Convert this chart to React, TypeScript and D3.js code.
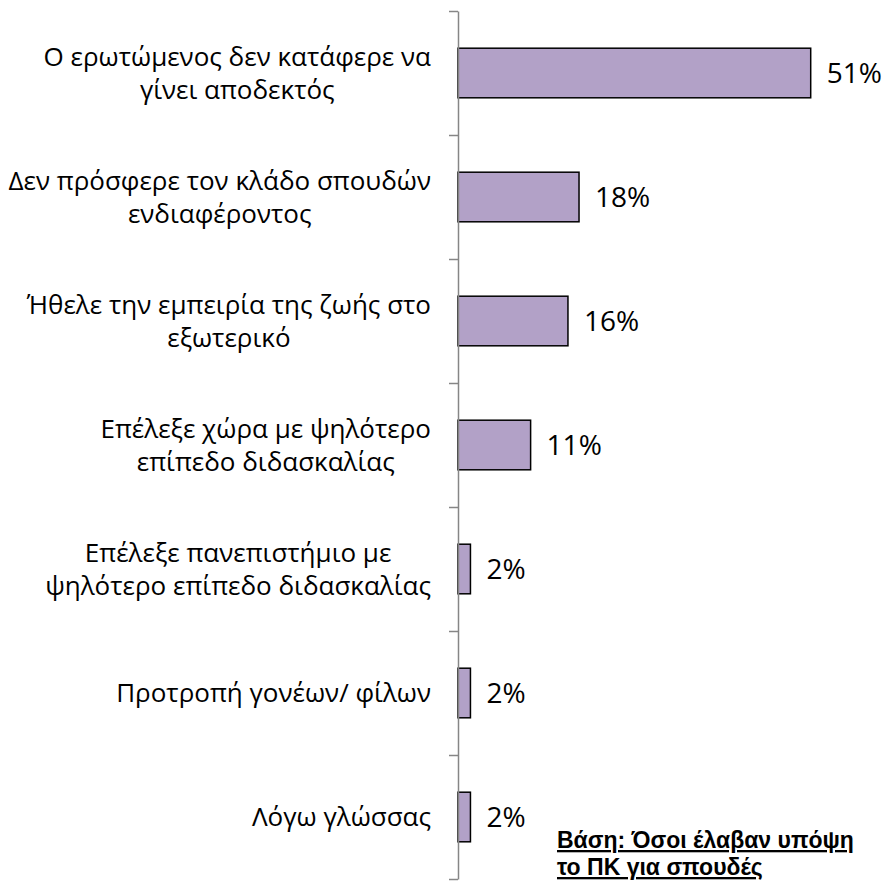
import { useEffect, useRef } from "react";
import * as d3 from "d3";

const categories = [
  ["Ο ερωτώμενος δεν κατάφερε να", "γίνει αποδεκτός"],
  ["Δεν πρόσφερε τον κλάδο σπουδών", "ενδιαφέροντος"],
  ["Ήθελε την εμπειρία της ζωής στο", "εξωτερικό"],
  ["Επέλεξε χώρα με ψηλότερο", "επίπεδο διδασκαλίας"],
  ["Επέλεξε πανεπιστήμιο με", "ψηλότερο επίπεδο διδασκαλίας"],
  ["Προτροπή γονέων/ φίλων"],
  ["Λόγω γλώσσας"],
];
const values = [51, 17.5, 15.9, 10.5, 1.8, 1.8, 1.8];
const noteLines = ["Βάση: Όσοι έλαβαν υπόψη", "το ΠΚ για σπουδές"];

const width = 885;
const height = 885;
const margin = { top: 11, bottom: 6, left: 458, right: 74 };
const font = "'Open Sans', 'Noto Sans', sans-serif";
const noteFont = "'Liberation Sans', 'DejaVu Sans', sans-serif";

const App = () => {
  const ref = useRef<SVGSVGElement>(null);

  const bottom = height - margin.bottom;
  const keys = categories.map((_, i) => String(i));

  const yScale = d3.scaleBand().domain(keys).range([margin.top, bottom]).paddingInner(0.6).paddingOuter(0.3);
  const tickScale = d3.scaleLinear().domain([0, keys.length]).range([margin.top, bottom]);
  const xScale = d3.scaleLinear().domain([0, 51]).range([margin.left, margin.left + 352.7]);

  useEffect(() => {
    const svg = d3.select(ref.current);
    svg.selectAll("*").remove();

    // bars
    svg.append("g")
      .selectAll("rect")
      .data(values)
      .join("rect")
      .attr("x", xScale(0))
      .attr("y", (_, i) => yScale(keys[i])!)
      .attr("width", (d) => xScale(d) - xScale(0))
      .attr("height", yScale.bandwidth())
      .attr("fill", "#b2a1c7")
      .attr("stroke", "#000")
      .attr("stroke-width", 1.5);

    // axis with ticks on category boundaries
    const axis = d3.axisLeft(tickScale)
      .tickValues(d3.range(keys.length + 1))
      .tickFormat(() => "")
      .tickSizeInner(9)
      .tickSizeOuter(0);
    const g = svg.append("g").attr("transform", `translate(${margin.left},0)`).call(axis);
    g.selectAll("path, line").attr("stroke", "#868686").attr("stroke-width", 1.5);

    // value labels
    svg.append("g")
      .selectAll("text")
      .data(values)
      .join("text")
      .attr("x", (d) => xScale(d) + 16)
      .attr("y", (_, i) => yScale(keys[i])! + yScale.bandwidth() / 2)
      .attr("dy", "0.36em")
      .attr("font-family", font)
      .attr("font-size", 28)
      .attr("fill", "#000")
      .text((d) => `${Math.round(d)}%`);

    // category labels: lines centred on each other, block right-aligned
    const labelRight = 431;
    const lineH = 33;
    const lg = svg.append("g");
    categories.forEach((lines, i) => {
      const cy = yScale(keys[i])! + yScale.bandwidth() / 2;
      const t = lg.append("text")
        .attr("font-family", font)
        .attr("font-size", 26)
        .attr("fill", "#000")
        .attr("text-anchor", "middle");
      lines.forEach((line, j) => {
        t.append("tspan")
          .attr("y", cy + (j - (lines.length - 1) / 2) * lineH)
          .attr("dy", "0.36em")
          .text(line);
      });
      let maxW = 0;
      t.selectAll<SVGTSpanElement, unknown>("tspan").each(function () {
        maxW = Math.max(maxW, this.getComputedTextLength());
      });
      t.selectAll("tspan").attr("x", labelRight - maxW / 2);
    });

    // base note
    const note = svg.append("text")
      .attr("font-family", noteFont)
      .attr("font-size", 23)
      .attr("font-weight", "bold")
      .attr("font-style", "normal")
      .attr("text-decoration", "underline")
      .attr("fill", "#000");
    noteLines.forEach((line, j) => {
      note.append("tspan").attr("x", 557).attr("y", 848 + j * 27).text(line);
    });
  }, []);

  return (
    <svg
      ref={ref}
      width={width}
      height={height}
      viewBox={`0 0 ${width} ${height}`}
      style={{ position: "absolute", left: 0, top: 0, background: "#fff" }}
    />
  );
};

export default App;
